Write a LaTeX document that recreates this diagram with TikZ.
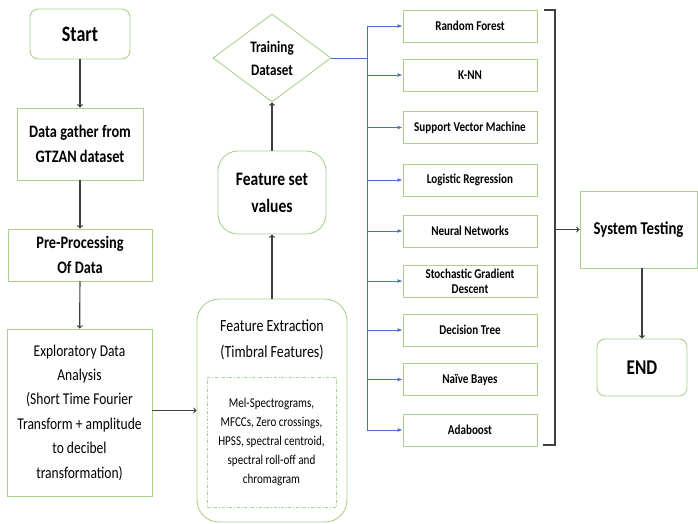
\documentclass[tikz,border=0pt]{standalone}
\usepackage{fontspec}
\setmainfont{Carlito}[FakeStretch=0.82]
\usetikzlibrary{positioning, arrows, arrows.meta, shapes.geometric}
\definecolor{boxgreen}{RGB}{169,209,142}
\definecolor{linkblue}{RGB}{68,114,196}
\definecolor{darkline}{RGB}{64,64,64}
\tikzset{
>=to, % plain open arrow heads
every node/.style={align=center, inner sep=1pt},
greenbox/.style={draw=boxgreen, line width=0.9pt},
roundbox/.style={greenbox, rounded corners=8pt},
algobox/.style={greenbox, minimum width=134pt, minimum height=32pt, font=\fontsize{13.5}{15}\selectfont\bfseries},
flow/.style={->, darkline, line width=1.2pt},
busline/.style={linkblue, line width=0.9pt},
busarrow/.style={busline, -{Latex[length=5pt, width=4pt]}},
}
\newcommand{\colora}{boxgreen}
\newcommand{\colorb}{linkblue}

\begin{document}
\begin{tikzpicture}[x=1pt, y=-1pt]
\useasboundingbox (0,0) rectangle (698,524);

% left column
\node[roundbox, minimum width=100pt, minimum height=50pt, font=\fontsize{22}{26}\selectfont\bfseries] (start) at (80,34) {Start};
\node[greenbox, minimum width=126pt, minimum height=72pt, font=\fontsize{17.5}{25}\selectfont\bfseries] (gather) at (80,144) {Data gather from\\GTZAN dataset};
\node[greenbox, minimum width=144pt, minimum height=52pt, font=\fontsize{17.5}{25}\selectfont\bfseries] (prep) at (80,255) {Pre-Processing\\Of Data};
\node[greenbox, minimum width=145pt, minimum height=167pt, font=\fontsize{16.5}{24.4}\selectfont] (eda) at (79.5,412.5) {Exploratory Data\\Analysis\\(Short Time Fourier\\Transform + amplitude\\to decibel\\transformation)};

% middle column
\node[greenbox, rounded corners=22pt, minimum width=150pt, minimum height=223pt] (featx) at (272,410.5) {};
\node[font=\fontsize{17}{26}\selectfont] (featxtitle) at (272,340) {Feature Extraction\\(Timbral Features)};
\node[draw=boxgreen, dash dot, line width=0.6pt, minimum width=129pt, minimum height=130pt, font=\fontsize{13.5}{19}\selectfont] (timbral) at (271.5,442) {Mel-Spectrograms,\\MFCCs, Zero crossings,\\HPSS, spectral centroid,\\spectral roll-off and\\chromagram};
\node[greenbox, rounded corners=20pt, minimum width=108pt, minimum height=83pt, font=\fontsize{19}{27}\selectfont\bfseries] (fset) at (272,192.5) {Feature set\\values};
\node[greenbox, diamond, inner sep=0pt, minimum width=118pt, minimum height=88pt, font=\fontsize{16}{23}\selectfont\bfseries] (train) at (272,58) {Training\\Dataset};

% classifiers
\node[algobox] (rf) at (470,26) {Random Forest};
\node[algobox] (knn) at (470,75) {K-NN};
\node[algobox] (svm) at (470,127.5) {Support Vector Machine};
\node[algobox] (lr) at (470,180) {Logistic Regression};
\node[algobox] (nn) at (470,231) {Neural Networks};
\node[algobox] (sgd) at (470,281) {Stochastic Gradient\\Descent};
\node[algobox] (dt) at (470,330) {Decision Tree};
\node[algobox] (nb) at (470,379.5) {Naïve Bayes};
\node[algobox] (ada) at (470,430) {Adaboost};

% right column
\node[greenbox, minimum width=117pt, minimum height=77pt, font=\fontsize{18}{22}\selectfont\bfseries] (systest) at (638.5,229.5) {System Testing};
\node[roundbox, minimum width=90pt, minimum height=57pt, font=\fontsize{21}{25}\selectfont\bfseries] (endnode) at (642,367.5) {END};

\coordinate (bus) at (367,0);
\coordinate (brtop) at (555,10);
\coordinate (brbot) at (555,445);

% edges
\path[flow] (start) edge (gather); % start to gather
\path[flow] (gather) edge (prep); % gather to prep
\path[flow] (prep) edge (eda); % prep to eda
\path[flow] (eda.east |- featx.west) edge (featx.west); % eda to features
\path[flow] (featx) edge (fset); % features to values
\path[flow] (fset) edge (train); % values to dataset

% bus to the classifiers
\draw[busline] (train.east) -- (bus |- train.east);
\draw[busline] (bus |- rf.west) -- (bus |- ada.west);
\path[busarrow] (bus |- rf.west) edge (rf.west);
\path[busarrow] (bus |- knn.west) edge (knn.west);
\path[busarrow] (bus |- svm.west) edge (svm.west);
\path[busarrow] (bus |- lr.west) edge (lr.west);
\path[busarrow] (bus |- nn.west) edge (nn.west);
\path[busarrow] (bus |- sgd.west) edge (sgd.west);
\path[busarrow] (bus |- dt.west) edge (dt.west);
\path[busarrow] (bus |- nb.west) edge (nb.west);
\path[busarrow] (bus |- ada.west) edge (ada.west);

% bracket
\draw[darkline, line width=1.2pt] (brtop) ++(-11,0) -- (brtop) -- (brbot) -- ++(-12,0);
\path[flow] (brtop |- systest.west) edge (systest.west); % bracket to testing
\path[flow] (endnode |- systest.south) edge (endnode.north); % testing to end
\end{tikzpicture}
\end{document}
